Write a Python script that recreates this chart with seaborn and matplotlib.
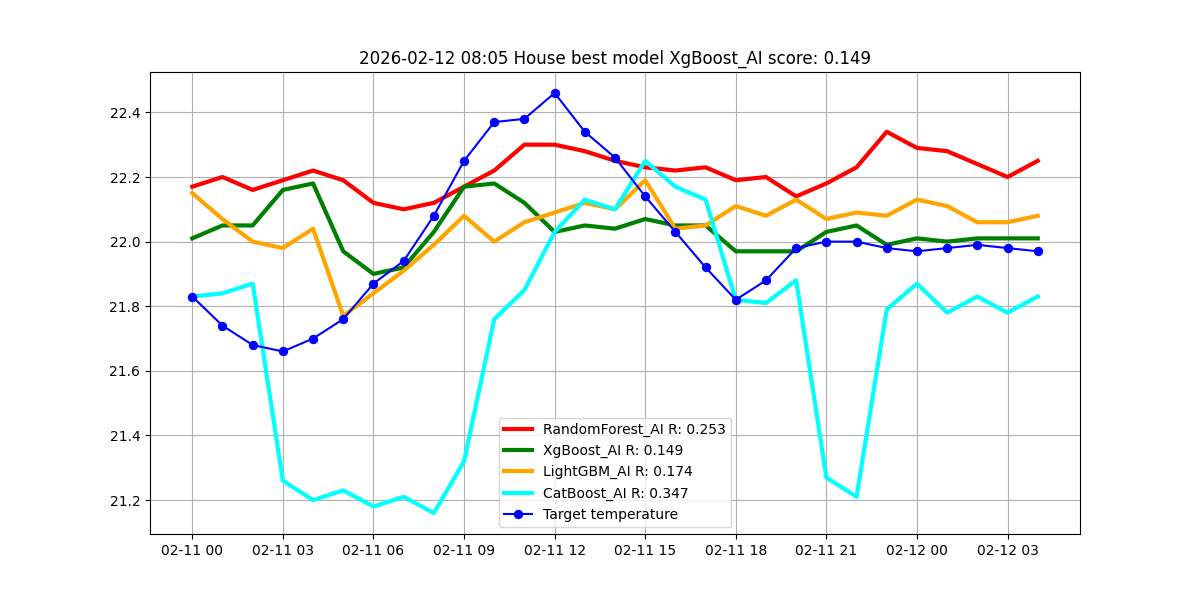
import pandas as pd
import numpy as np
import matplotlib
matplotlib.use("Agg")
import matplotlib.pyplot as plt
import matplotlib.dates as mdates
import seaborn as sns

# hourly timestamps
times = pd.date_range("2026-02-11 00:00", "2026-02-12 04:00", freq="h")

random_forest = [22.17, 22.20, 22.16, 22.19, 22.22, 22.19, 22.12, 22.10, 22.12, 22.17,
                 22.22, 22.30, 22.30, 22.28, 22.25, 22.23, 22.22, 22.23, 22.19, 22.20,
                 22.14, 22.18, 22.23, 22.34, 22.29, 22.28, 22.24, 22.20, 22.25]
xgboost = [22.01, 22.05, 22.05, 22.16, 22.18, 21.97, 21.90, 21.92, 22.03, 22.17,
           22.18, 22.12, 22.03, 22.05, 22.04, 22.07, 22.05, 22.05, 21.97, 21.97,
           21.97, 22.03, 22.05, 21.99, 22.01, 22.00, 22.01, 22.01, 22.01]
lightgbm = [22.15, 22.07, 22.00, 21.98, 22.04, 21.77, 21.84, 21.91, 21.99, 22.08,
            22.00, 22.06, 22.09, 22.12, 22.10, 22.19, 22.04, 22.05, 22.11, 22.08,
            22.13, 22.07, 22.09, 22.08, 22.13, 22.11, 22.06, 22.06, 22.08]
catboost = [21.83, 21.84, 21.87, 21.26, 21.20, 21.23, 21.18, 21.21, 21.16, 21.32,
            21.76, 21.85, 22.03, 22.13, 22.10, 22.25, 22.17, 22.13, 21.82, 21.81,
            21.88, 21.27, 21.21, 21.79, 21.87, 21.78, 21.83, 21.78, 21.83]
target = [21.83, 21.74, 21.68, 21.66, 21.70, 21.76, 21.87, 21.94, 22.08, 22.25,
          22.37, 22.38, 22.46, 22.34, 22.26, 22.14, 22.03, 21.92, 21.82, 21.88,
          21.98, 22.00, 22.00, 21.98, 21.97, 21.98, 21.99, 21.98, 21.97]

models = [("RandomForest_AI R: 0.253", random_forest, "red"),
          ("XgBoost_AI R: 0.149", xgboost, "green"),
          ("LightGBM_AI R: 0.174", lightgbm, "orange"),
          ("CatBoost_AI R: 0.347", catboost, "cyan")]

fig, ax = plt.subplots(figsize=(12, 6), dpi=100)

for label, vals, col in models:
    sns.lineplot(x=times, y=vals, ax=ax, color=col, linewidth=3, label=label)

sns.lineplot(x=times, y=target, ax=ax, color="blue", linewidth=1.5,
             marker="o", markersize=6, markeredgecolor="blue", label="Target temperature")

ax.xaxis.set_major_locator(mdates.HourLocator(byhour=range(0, 24, 3)))
ax.xaxis.set_major_formatter(mdates.DateFormatter("%m-%d %H"))
ax.set_xlabel("")
ax.set_ylabel("")
ax.grid(True)
ax.legend(loc="lower center")
ax.set_title("2026-02-12 08:05 House best model XgBoost_AI score: 0.149")

fig.savefig("out.png", dpi=100)
